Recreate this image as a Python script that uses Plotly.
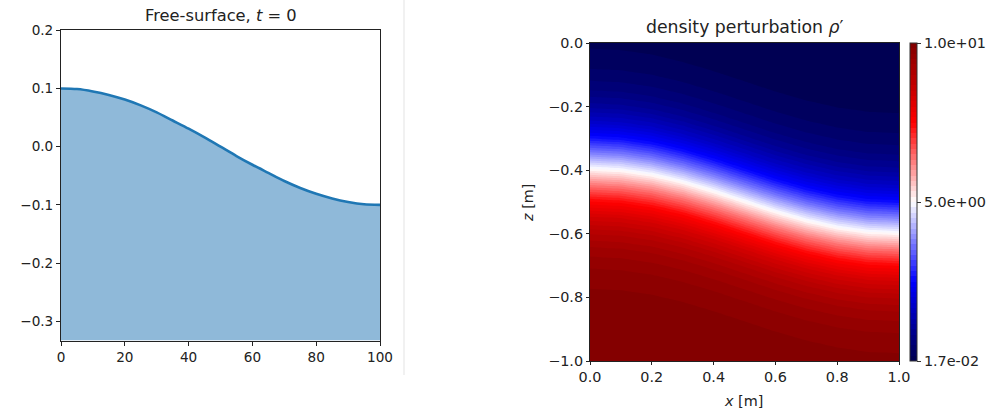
import numpy as np
import plotly.graph_objects as go

# ---- Left panel: free surface at t = 0 ----
surf_x = [0, 5, 10, 15, 20, 25, 30, 35, 40, 45, 50, 55, 60, 65, 70, 75, 80, 85, 90, 95, 100]
surf_eta = [0.100, 0.099, 0.095, 0.089, 0.081, 0.071, 0.059, 0.045, 0.031, 0.016, 0.000,
            -0.016, -0.031, -0.045, -0.059, -0.071, -0.081, -0.089, -0.095, -0.099, -0.100]
bottom_level = -0.333
left_yticks = [0.2, 0.1, 0.0, -0.1, -0.2, -0.3]
left_xticks = [0, 20, 40, 60, 80, 100]

# ---- Right panel: density perturbation ----
field_x = [0.0, 0.1, 0.2, 0.3, 0.4, 0.5, 0.6, 0.7, 0.8, 0.9, 1.0]
interface_z = [-0.395, -0.400, -0.414, -0.437, -0.466, -0.498, -0.530, -0.558, -0.580, -0.594, -0.598]
# rho' versus height above the interface (z - interface)
profile_offset = [-0.60, -0.55, -0.50, -0.45, -0.40, -0.35, -0.30, -0.25, -0.20, -0.15, -0.10, -0.05,
                  0.00, 0.05, 0.10, 0.15, 0.20, 0.25, 0.30, 0.35, 0.40, 0.45, 0.50, 0.55, 0.60]
profile_rho = [9.983, 9.972, 9.952, 9.918, 9.860, 9.764, 9.605, 9.347, 8.937, 8.316, 7.435, 6.300,
               5.000, 3.700, 2.565, 1.684, 1.063, 0.653, 0.395, 0.236, 0.140, 0.083, 0.049, 0.029, 0.017]
cbar_text = ["1.7e-02", "5.0e+00", "1.0e+01"]
right_ticks = [0.0, 0.2, 0.4, 0.6, 0.8, 1.0]
right_zticks = [0.0, -0.2, -0.4, -0.6, -0.8, -1.0]

W, H = 990, 414
FONT = "DejaVu Sans"
TXT = "#222222"

def minus(v, fmt):
    return (fmt % v).replace("-", "\u2212")

fig = go.Figure()

fig.add_trace(go.Scatter(x=surf_x, y=[bottom_level] * len(surf_x), mode="lines",
                         line=dict(width=0, color="rgba(0,0,0,0)"), showlegend=False,
                         hoverinfo="skip", xaxis="x", yaxis="y"))
fig.add_trace(go.Scatter(x=surf_x, y=surf_eta, mode="lines", fill="tonexty",
                         fillcolor="rgb(143,185,217)",
                         line=dict(color="#1f77b4", width=2.6, shape="spline", smoothing=0.8),
                         showlegend=False, xaxis="x", yaxis="y"))

gx = np.linspace(0, 1, 61)
gz = np.linspace(-1, 0, 121)
iz = np.interp(gx, field_x, interface_z)
Z = np.array([[np.interp(z - iz[j], profile_offset, profile_rho) for j in range(len(gx))] for z in gz])

seismic = [[0.0, "rgb(0,0,77)"], [0.25, "rgb(0,0,255)"], [0.5, "rgb(255,255,255)"],
           [0.75, "rgb(255,0,0)"], [1.0, "rgb(128,0,0)"]]
zmin, zmax = min(profile_rho), max(profile_rho)
ax_top, ax_bot = 43, 361
fig.add_trace(go.Contour(x=gx, y=gz, z=Z, colorscale=seismic, zmin=zmin, zmax=zmax,
                         contours=dict(coloring="fill", start=zmin, end=zmax,
                                       size=(zmax - zmin) / 60, showlines=False),
                         line=dict(width=0),
                         colorbar=dict(x=910 / W, xanchor="left", thickness=7,
                                       len=(ax_bot - ax_top) / H, lenmode="fraction",
                                       y=1 - (ax_top + ax_bot) / 2 / H, yanchor="middle",
                                       xpad=0, ypad=0,
                                       tickvals=[zmin, (zmin + zmax) / 2, zmax], ticktext=cbar_text,
                                       ticks="outside", ticklen=4, tickcolor="#333",
                                       outlinewidth=1, outlinecolor="#333",
                                       tickfont=dict(family=FONT, size=14.4, color=TXT)),
                         xaxis="x2", yaxis="y2", hoverinfo="skip"))

def axis_common(size, tlen):
    return dict(showline=True, mirror=True, linecolor="#222", linewidth=1,
                ticks="outside", ticklen=tlen, tickcolor="#222", showgrid=False,
                zeroline=False, automargin=False,
                tickfont=dict(family=FONT, size=size, color=TXT))

fig.update_layout(
    width=W, height=H, margin=dict(l=0, r=0, t=0, b=0, autoexpand=False),
    paper_bgcolor="white", plot_bgcolor="white",
    font=dict(family=FONT, size=13.6, color=TXT),
    xaxis=dict(domain=[61 / W, 380 / W], range=[0, 100], tickvals=left_xticks,
               ticktext=[str(v) for v in left_xticks], anchor="y", **axis_common(13.6, 4)),
    yaxis=dict(domain=[1 - 340.5 / H, 1 - 30.3 / H], range=[bottom_level, 0.2],
               tickvals=left_yticks, ticktext=[minus(v, "%.1f") for v in left_yticks],
               anchor="x", **axis_common(13.6, 4)),
    xaxis2=dict(domain=[590 / W, 899 / W], range=[0, 1], tickvals=right_ticks,
                ticktext=[minus(v, "%.1f") for v in right_ticks], anchor="y2",
                **axis_common(14.4, 3)),
    yaxis2=dict(domain=[1 - ax_bot / H, 1 - ax_top / H], range=[-1, 0], tickvals=right_zticks,
                ticktext=[minus(v, "%.1f") for v in right_zticks], anchor="x2",
                **axis_common(14.4, 3)),
    annotations=[
        dict(text="Free-surface, <i>t</i> = 0", x=(61 + 380) / 2 / W, y=1 - 16 / H,
             xref="paper", yref="paper", showarrow=False, xanchor="center", yanchor="middle",
             font=dict(family=FONT, size=16.3, color=TXT)),
        dict(text="density perturbation <i>ρ</i>′", x=(590 + 899) / 2 / W, y=1 - 27 / H,
             xref="paper", yref="paper", showarrow=False, xanchor="center", yanchor="middle",
             font=dict(family=FONT, size=17.3, color=TXT)),
        dict(text="<i>x</i> [m]", x=743 / W, y=1 - 401 / H,
             xref="paper", yref="paper", showarrow=False, xanchor="center", yanchor="middle",
             font=dict(family=FONT, size=14.4, color=TXT)),
        dict(text="<i>z</i> [m]", x=528 / W, y=1 - 203 / H, textangle=-90,
             xref="paper", yref="paper", showarrow=False, xanchor="center", yanchor="middle",
             font=dict(family=FONT, size=14.4, color=TXT)),
    ],
    shapes=[dict(type="line", xref="paper", yref="paper", x0=404 / W, x1=404 / W,
                 y0=1, y1=1 - 375 / H, line=dict(color="#e3e3e3", width=1))],
)

fig.write_html("out.html")
